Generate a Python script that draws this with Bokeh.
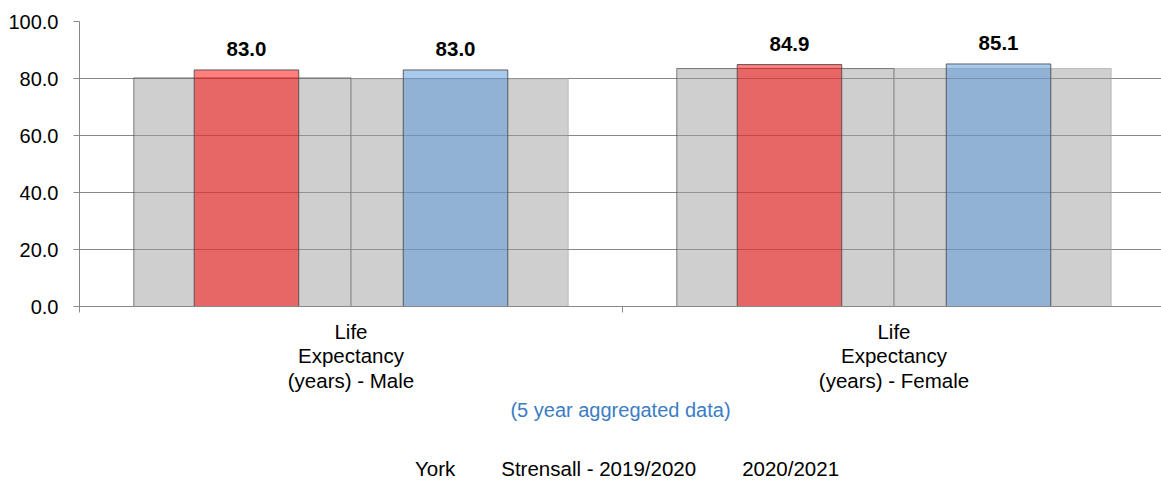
import numpy as np
from bokeh.plotting import figure
from bokeh.layouts import column
from bokeh.models import (ColumnDataSource, Range1d, FixedTicker, Legend, LegendItem,
                          NumeralTickFormatter)
from bokeh.core.properties import value
from bokeh.embed import file_html
from bokeh.resources import INLINE

# ---------------- data ----------------
categories = ["Life\nExpectancy\n(years) - Male", "Life\nExpectancy\n(years) - Female"]
york_2019_20 = [80.2, 83.5]
york_2020_21 = [79.9, 83.5]
strensall_2019_20 = [83.0, 84.9]
strensall_2020_21 = [83.0, 85.1]
series_names = ["York", "Strensall - 2019/2020", "2020/2021"]
y_ticks = [0, 20, 40, 60, 80, 100]
x_title = "(5 year aggregated data)"

# ---------------- styling ----------------
FONT = "Liberation Sans"
GRID = "#878787"
centers = np.arange(len(categories)) + 0.5
york_w = 0.4
str_w = 0.1925

YORK = dict(fill_color="#A0A0A0", fill_alpha=0.5, line_color="#404040", line_alpha=0.65, line_width=1)
YORK2 = dict(fill_color="#A0A0A0", fill_alpha=0.5, line_color="#A0A0A0", line_alpha=0.6, line_width=1)
RED = dict(fill_color="#FF0000", fill_alpha=0.5, line_color="#404040", line_alpha=0.8, line_width=1)
BLUE = dict(fill_color="#5596DC", fill_alpha=0.5, line_color="#404040", line_alpha=0.8, line_width=1)

p = figure(width=1161, height=448, output_backend="svg", toolbar_location=None,
           x_range=Range1d(0, 1082 / 543), y_range=Range1d(0, 100),
           min_border_left=79, min_border_right=0, min_border_top=21,
           min_border_bottom=142)
p.outline_line_color = None
p.background_fill_color = "white"
p.border_fill_color = "white"

src_y1 = ColumnDataSource(dict(x=centers - york_w / 2, top=york_2019_20))
src_y2 = ColumnDataSource(dict(x=centers + york_w / 2, top=york_2020_21))
src_s1 = ColumnDataSource(dict(x=centers - str_w, top=strensall_2019_20,
                               lab=[f"{v:.1f}" for v in strensall_2019_20]))
src_s2 = ColumnDataSource(dict(x=centers + str_w, top=strensall_2020_21,
                               lab=[f"{v:.1f}" for v in strensall_2020_21]))

p.vbar(x="x", top="top", bottom=0, width=york_w, source=src_y1, **YORK)
p.vbar(x="x", top="top", bottom=0, width=york_w, source=src_y2, **YORK2)
p.vbar(x="x", top="top", bottom=0, width=str_w, source=src_s1, **RED)
p.vbar(x="x", top="top", bottom=0, width=str_w, source=src_s2, **BLUE)

for src in (src_s1, src_s2):
    p.text(x="x", y="top", text="lab", source=src, text_font=value(FONT),
           text_font_size="20.5px", text_font_style="bold", text_align="center",
           text_baseline="alphabetic", y_offset=-21, text_color="#000000")

# y axis
yt = FixedTicker(ticks=y_ticks, minor_ticks=[])
p.yaxis.ticker = yt
p.ygrid.ticker = yt
p.yaxis.formatter = NumeralTickFormatter(format="0.0")
p.yaxis.major_tick_out = 6
p.yaxis.major_tick_in = 0
p.yaxis.minor_tick_out = 0
p.yaxis.minor_tick_in = 0
p.yaxis.major_label_standoff = 15
p.yaxis.axis_line_color = GRID
p.yaxis.major_tick_line_color = GRID
p.yaxis.major_label_text_font = FONT
p.yaxis.major_label_text_font_size = "20px"
p.yaxis.major_label_text_color = "#000000"
p.ygrid.grid_line_color = GRID
p.ygrid.grid_line_width = 1

# x axis
xt = FixedTicker(ticks=list(centers), minor_ticks=list(range(len(categories) + 1)))
p.xaxis.ticker = xt
p.xgrid.visible = False
p.xaxis.major_label_overrides = {float(c): lab for c, lab in zip(centers, categories)}
p.xaxis.major_tick_out = 0
p.xaxis.major_tick_in = 0
p.xaxis.minor_tick_out = 6
p.xaxis.minor_tick_in = 0
p.xaxis.minor_tick_line_color = GRID
p.xaxis.axis_line_color = GRID
p.xaxis.major_label_standoff = 7
p.xaxis.major_label_text_font = FONT
p.xaxis.major_label_text_font_size = "20.5px"
p.xaxis.major_label_text_line_height = 1.08
p.xaxis.major_label_text_color = "#000000"
p.xaxis.axis_label = x_title
p.xaxis.axis_label_text_font = FONT
p.xaxis.axis_label_text_font_size = "20px"
p.xaxis.axis_label_text_font_style = "normal"
p.xaxis.axis_label_text_color = "#3B7DC4"
p.xaxis.axis_label_standoff = 4

# legend strip: legend-only renderers (empty sources) carrying the series styles
lg = figure(width=1161, height=33, output_backend="svg", toolbar_location=None,
            x_range=Range1d(0, 1), y_range=Range1d(0, 1),
            x_axis_type=None, y_axis_type=None,
            min_border_left=79, min_border_right=0, min_border_top=0,
            min_border_bottom=0)
lg.outline_line_color = None
lg.background_fill_color = "white"
lg.border_fill_color = "white"
lg.xgrid.visible = False
lg.ygrid.visible = False

def empty():
    return ColumnDataSource(dict(x=[], top=[]))

l_y = lg.vbar(x="x", top="top", bottom=0, width=york_w, source=empty(), **YORK)
l_s1 = lg.vbar(x="x", top="top", bottom=0, width=str_w, source=empty(), **RED)
l_s2 = lg.vbar(x="x", top="top", bottom=0, width=str_w, source=empty(), **BLUE)

legend = Legend(items=[LegendItem(label=series_names[0], renderers=[l_y]),
                       LegendItem(label=series_names[1], renderers=[l_s1]),
                       LegendItem(label=series_names[2], renderers=[l_s2])],
                location="bottom_center", orientation="horizontal",
                glyph_width=11, glyph_height=11, label_standoff=3, spacing=32,
                padding=0, margin=0, border_line_alpha=0, background_fill_alpha=0,
                label_text_font=FONT, label_text_font_size="20.5px",
                label_text_color="#000000")
lg.add_layout(legend)

layout = column(p, lg, spacing=0)
open("out.html", "w").write(file_html(layout, INLINE))
